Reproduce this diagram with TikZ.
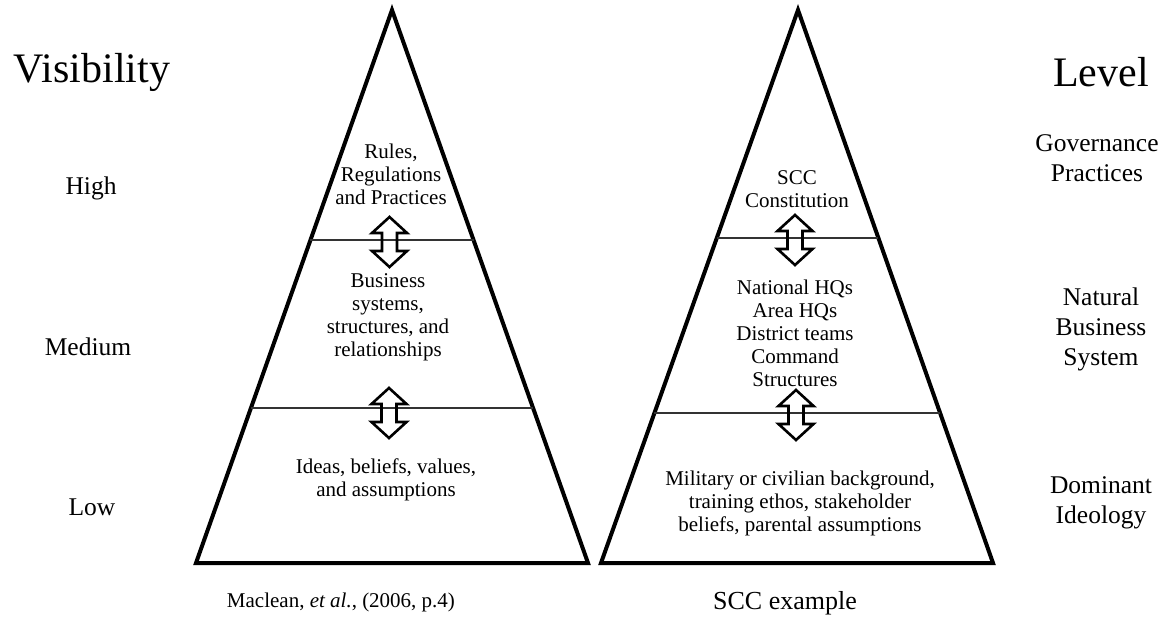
\documentclass[tikz,border=0pt]{standalone}
\usepackage{fontspec}
\setmainfont{Liberation Serif}
\usetikzlibrary{calc}
\tikzset{
  tri/.style={draw=black, line width=4pt, line join=miter},
  divider/.style={draw=black!80, line width=1.6pt},
  inner/.style={inner sep=0pt, align=center, font=\fontsize{21}{23}\selectfont},
  side/.style={inner sep=0pt, align=center, font=\fontsize{25.5}{30}\selectfont},
  heading/.style={inner sep=0pt, font=\fontsize{42}{46}\selectfont},
  caption/.style={inner sep=0pt, font=\fontsize{21}{25}\selectfont},
  blockarrow/.style={draw=black, line width=2.6pt, line join=miter, fill=none},
  updown/.pic={
    \draw[blockarrow] (0,-25) -- (17.5,-9) -- (7.5,-9) -- (7.5,9) -- (17.5,9) -- (0,25)
      -- (-17.5,9) -- (-7.5,9) -- (-7.5,-9) -- (-17.5,-9) -- cycle;
  }
}
\begin{document}
\begin{tikzpicture}[x=1pt,y=-1pt]
\useasboundingbox (0,0) rectangle (1170,620);
% left pyramid
\coordinate (LA) at (392,10);
\coordinate (LL) at (196,563);
\coordinate (LR) at (588,563);
\draw[tri] (LA) -- (LR) -- (LL) -- cycle;
\coordinate (L1a) at ($(LA)!0.4159!(LL)$);
\coordinate (L1b) at ($(LA)!0.4159!(LR)$);
\coordinate (L2a) at ($(LA)!0.7197!(LL)$);
\coordinate (L2b) at ($(LA)!0.7197!(LR)$);
\draw[divider] (L1a) -- (L1b);
\draw[divider] (L2a) -- (L2b);
\pic at (389.5,242) {updown};
\pic at (389,413) {updown};
% right pyramid
\coordinate (RA) at (798,10);
\coordinate (RL) at (601,563);
\coordinate (RR) at (993,563);
\draw[tri] (RA) -- (RR) -- (RL) -- cycle;
\coordinate (R1a) at ($(RA)!0.4123!(RL)$);
\coordinate (R1b) at ($(RA)!0.4123!(RR)$);
\coordinate (R2a) at ($(RA)!0.7288!(RL)$);
\coordinate (R2b) at ($(RA)!0.7288!(RR)$);
\draw[divider] (R1a) -- (R1b);
\draw[divider] (R2a) -- (R2b);
\pic at (795,240) {updown};
\pic at (796,415) {updown};
% inner texts
\node[inner] (rules) at (391,174) {Rules,\\Regulations\\and Practices};
\node[inner] (business) at (388,317) {Business\\systems,\\structures, and\\relationships};
\node[inner] (ideas) at (386,480) {Ideas, beliefs, values,\\and assumptions};
\node[inner] (scc) at (797,189) {SCC\\Constitution};
\node[inner] (natl) at (795,333) {National HQs\\Area HQs\\District teams\\Command\\Structures};
\node[inner] (mil) at (800,503) {Military or civilian background,\\training ethos, stakeholder\\beliefs, parental assumptions};
% left labels
\node[heading] (vis) at (92,72) {Visibility};
\node[side] (high) at (91,188) {High};
\node[side] (med) at (88,347) {Medium};
\node[side] (low) at (92,507) {Low};
% right labels
\node[heading] (level) at (1101,72) {Level};
\node[side] (gov) at (1097,158) {Governance\\Practices};
\node[side] (nat) at (1101,329) {Natural\\Business\\System};
\node[side] (dom) at (1101,503) {Dominant\\Ideology};
% captions
\node[caption] (capL) at (341,602) {Maclean, \textit{et al.}, (2006, p.4)};
\node[caption, font=\fontsize{26}{30}\selectfont] (capR) at (785,603) {SCC example};
\end{tikzpicture}
\end{document}
